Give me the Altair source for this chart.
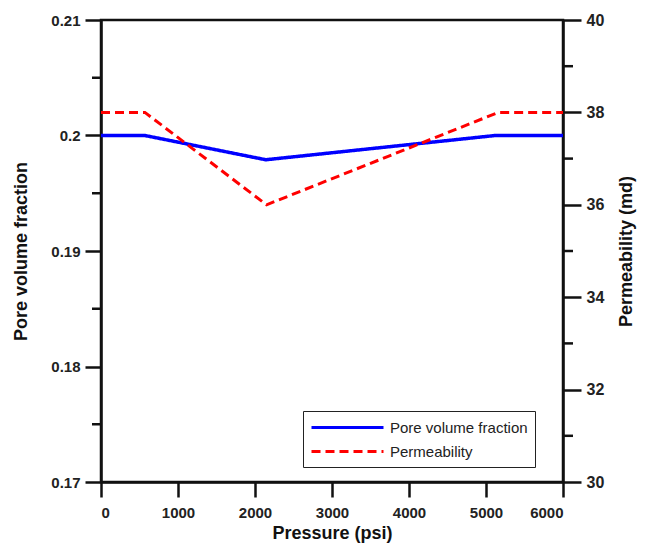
import altair as alt
import pandas as pd

# Data
pressure_pv = [0, 570, 2140, 5120, 6000]
pore_volume = [0.2, 0.2, 0.1979, 0.2, 0.2]

pressure_perm = [0, 570, 2150, 5160, 6000]
permeability = [38.0, 38.0, 36.0, 38.0, 38.0]

left_major = [0.17, 0.18, 0.19, 0.2, 0.21]
left_minor = [0.175, 0.185, 0.195, 0.205]
right_major = [30, 32, 34, 36, 38, 40]
right_minor = [31, 33, 35, 37, 39]
x_ticks = [0, 1000, 2000, 3000, 4000, 5000, 6000]

series_names = ["Pore volume fraction", "Permeability"]
series_colors = ["#0000ff", "#ff0000"]

df_pv = pd.DataFrame({"p": pressure_pv, "v": pore_volume, "series": series_names[0]})
df_perm = pd.DataFrame({"p": pressure_perm, "v": permeability, "series": series_names[1]})
df_lminor = pd.DataFrame({"v": left_minor})
df_rminor = pd.DataFrame({"v": right_minor})

FONT = "Liberation Sans"

x_enc = alt.X("p:Q", scale=alt.Scale(domain=[0, 6000], nice=False),
              axis=alt.Axis(values=x_ticks, title="Pressure (psi)", format="d",
                            tickSize=15, labelPadding=8, titlePadding=4))

color_enc = alt.Color("series:N", scale=alt.Scale(domain=series_names, range=series_colors),
                      legend=alt.Legend(title=None, orient="none", legendX=202, legendY=391,
                                        symbolType="M-1,0H8", symbolSize=256,
                                        symbolStrokeWidth=3, labelFontSize=15,
                                        labelFont=FONT, labelFontWeight="normal",
                                        labelColor="#222", rowPadding=6,
                                        labelOffset=61,
                                        labelExpr="datum.label + '\u00a0\u00a0\u00a0\u00a0\u00a0\u00a0'",
                                        strokeColor="#222", padding=7,
                                        fillColor="white", labelLimit=300))
dash_enc = alt.StrokeDash("series:N", scale=alt.Scale(domain=series_names, range=[[1, 0], [9, 5]]),
                          legend=None)

y_left_scale = alt.Scale(domain=[0.17, 0.21], nice=False, zero=False)
y_right_scale = alt.Scale(domain=[30, 40], nice=False, zero=False)

pv_line = alt.Chart(df_pv).mark_line(strokeWidth=3.5, clip=True).encode(
    x=x_enc,
    y=alt.Y("v:Q", scale=y_left_scale,
            axis=alt.Axis(values=left_major, format=".2~f", title="Pore volume fraction",
                          orient="left", tickSize=16, labelPadding=5, titlePadding=20)),
    color=color_enc,
    strokeDash=dash_enc,
)
left_minor_ticks = alt.Chart(df_lminor).mark_rule(color="#111", strokeWidth=2.5).encode(
    y=alt.Y("v:Q", scale=y_left_scale),
    x=alt.value(-9), x2=alt.value(0),
)
left_layer = alt.layer(pv_line, left_minor_ticks)

perm_line = alt.Chart(df_perm).mark_line(strokeWidth=3, clip=True).encode(
    x=x_enc,
    y=alt.Y("v:Q", scale=y_right_scale,
            axis=alt.Axis(values=right_major, format="d", title="Permeability (md)",
                          orient="right", tickSize=18, labelPadding=5, titlePadding=14,
                          titleAngle=270, titleBaseline="top", labelFontSize=16)),
    color=color_enc,
    strokeDash=dash_enc,
)
right_minor_ticks = alt.Chart(df_rminor).mark_rule(color="#111", strokeWidth=2.5).encode(
    y=alt.Y("v:Q", scale=y_right_scale),
    x=alt.value(462), x2=alt.value(472),
)
right_layer = alt.layer(perm_line, right_minor_ticks)

chart = alt.layer(left_layer, right_layer).resolve_scale(
    y="independent"
).properties(
    width=462, height=462,
    autosize=alt.AutoSizeParams(type="none"),
    padding={"left": 93, "top": 12, "right": 74, "bottom": 65},
).configure_view(
    stroke="#111", strokeWidth=2.5
).configure_axis(
    domainColor="#111", domainWidth=2.5, tickColor="#111", tickWidth=2.5,
    grid=False, labelFont=FONT, labelFontSize=15, labelFontWeight="bold",
    labelColor="#222", titleFont=FONT, titleFontSize=18, titleFontWeight="bold",
    titleColor="#111",
)

chart.save("out.html", embed_options={"renderer": "svg", "actions": False})
